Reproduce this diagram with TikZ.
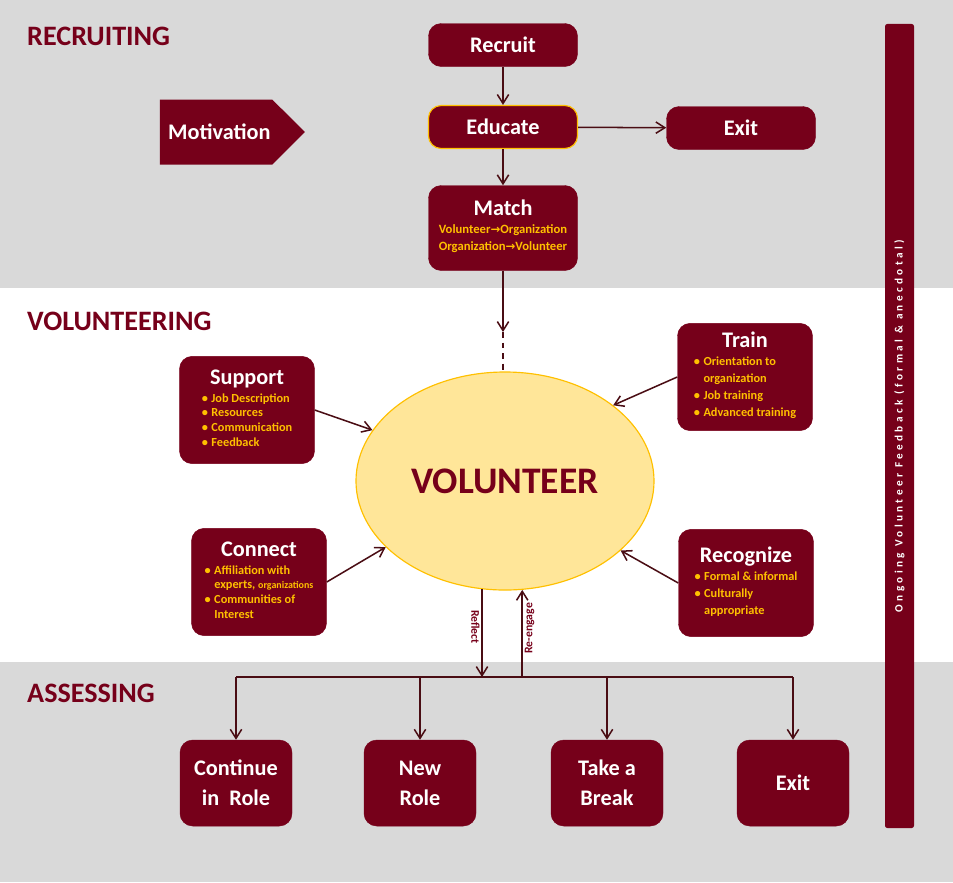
\documentclass[tikz,border=0pt]{standalone}
\usepackage{fontspec}
\setmainfont{Carlito}
\newfontfamily\symfont{DejaVu Sans}
\newfontfamily\spacedfont[LetterSpace=30]{Carlito}
\usetikzlibrary{shapes.geometric,shapes.symbols,arrows.meta,positioning,calc}
\definecolor{cWine}{HTML}{76001A}
\definecolor{cGold}{HTML}{FFC000}
\definecolor{cCream}{HTML}{FFE699}
\definecolor{cBand}{HTML}{D9D9D9}
\definecolor{cLine}{HTML}{4A0D14}
\newcommand{\ttl}{\fontsize{19}{15.5}\selectfont\bfseries}
\newcommand{\blist}[2][12.4]{{\fontsize{10.5}{#1}\selectfont\bfseries\color{cGold}\begin{tabular}[t]{@{}l@{\hspace{3pt}}l@{}}#2\end{tabular}}}
\newcommand{\tolink}{{\symfont\bfseries\fontsize{10}{10}\selectfont →}}

\begin{document}
\begin{tikzpicture}[
    x=0.03cm, y=-0.03cm,
    box/.style={rectangle, rounded corners=0.38cm, fill=cWine, draw=cWine, text=white, font=\ttl, align=center, inner sep=2pt},
    sbox/.style={box, minimum width=4.47cm, minimum height=1.29cm},
    lbox/.style={box, minimum width=4.05cm, minimum height=3.22cm},
    ebox/.style={box, minimum width=3.36cm, minimum height=2.58cm, font=\fontsize{19}{25.5}\selectfont\bfseries},
    sect/.style={anchor=west, inner sep=0, text=cWine, font=\fontsize{24}{26}\selectfont\bfseries},
    tag/.style={inner sep=1.5pt, text=cWine, font=\fontsize{10}{11}\selectfont\bfseries},
    arr/.style={-{Straight Barb[length=2.7mm,width=3.4mm]}, draw=cLine, line width=1.3pt},
    wire/.style={draw=cLine, line width=1.3pt}
]
\useasboundingbox (0,0) rectangle (953,882);
\fill[cBand] (0,0) rectangle (953,288);
\fill[cBand] (0,662) rectangle (953,882);

\node[sect] (recr) at (27,36) {RECRUITING};
\node[sect] (volt) at (27,321) {VOLUNTEERING};
\node[sect] (asse) at (27,693) {ASSESSING};

\node[sbox] (recruit) at (503,45) {Recruit};
\node[sbox, draw=cGold, line width=1pt] (educate) at (503,127) {Educate};
\node[sbox] (exitA) at (741,128) {Exit};
\node[sbox, minimum height=2.55cm] (match) at (503,228) {Match\\{\fontsize{10.8}{14.5}\selectfont\bfseries\color{cGold}\begin{tabular}[t]{@{}c@{}}Volunteer\tolink Organization\\Organization\tolink Volunteer\end{tabular}}};
\node[signal, signal to=east, signal pointer angle=90, fill=cWine, text=white, font=\ttl, minimum width=4.35cm, minimum height=1.95cm, inner sep=1pt] (motiv) at (216,132) {\hspace{0.2cm}Motivation};

\node[ellipse, fill=cCream, draw=cGold, line width=1pt, minimum width=8.94cm, minimum height=6.54cm, inner sep=0, text=cWine, font=\fontsize{32}{36}\selectfont\bfseries] (vol) at (505,481) {VOLUNTEER};

\node[lbox] (support) at (247,410) {Support\\\blist{\textbullet & Job Description\\ \textbullet & Resources\\ \textbullet & Communication\\ \textbullet & Feedback}};
\node[lbox] (train) at (745,377) {Train\\\blist[14.6]{\textbullet & Orientation to\\ & organization\\ \textbullet & Job training\\ \textbullet & Advanced training}};
\node[lbox] (connect) at (259,582) {Connect\\\blist{\textbullet & Affiliation with\\ & experts, {\fontsize{8.5}{10}\selectfont organizations}\\ \textbullet & Communities of\\ & Interest}};
\node[lbox] (recog) at (746,583) {Recognize\\\blist[14.6]{\textbullet & Formal \& informal\\ \textbullet & Culturally\\ & appropriate}};

\node[ebox] (cont) at (236,783) {Continue\\in\ \ Role};
\node[ebox] (newr) at (420,783) {New\\Role};
\node[ebox] (brk) at (607,783) {Take a\\Break};
\node[ebox] (exitB) at (793,783) {Exit};

\node[rectangle, rounded corners=2pt, fill=cWine, rotate=90, minimum width=24.12cm, minimum height=0.87cm, inner sep=0, text=white, font=\spacedfont\fontsize{9.6}{11}\selectfont\bfseries] (fb) at (899.5,426) {Ongoing Volunteer Feedback (formal \& anecdotal)};

\coordinate (dash) at (503,332);
\coordinate (split) at (481,677);

\draw[arr] (recruit) -- (educate);
\draw[arr] (educate) -- (exitA);
\draw[arr] (educate) -- (match);
\draw[arr] (match) -- (dash);
\draw[wire, dash pattern=on 5pt off 4pt] (dash) -- (dash |- vol.north);

\draw[arr] (support.east) -- (vol.159);
\draw[arr] (train.west) -- (vol.35);
\draw[arr] (connect.east) -- (vol.209.5);
\draw[arr] (recog.west) -- (vol.-31);

\draw[arr] (vol.-102.6) -- (vol.-102.6 |- split) node[tag, pos=0.43, anchor=north, rotate=-90] (reflect) {Reflect};
\draw[arr] (vol.-81 |- split) -- (vol.-81) node[tag, pos=0.56, anchor=north, rotate=90] (reeng) {Re-engage};

\draw[wire] (cont.north |- split) -- (exitB.north |- split);
\foreach \n in {cont,newr,brk,exitB} {
  \draw[arr] (\n.north |- split) -- (\n.north);
}
\end{tikzpicture}
\end{document}
